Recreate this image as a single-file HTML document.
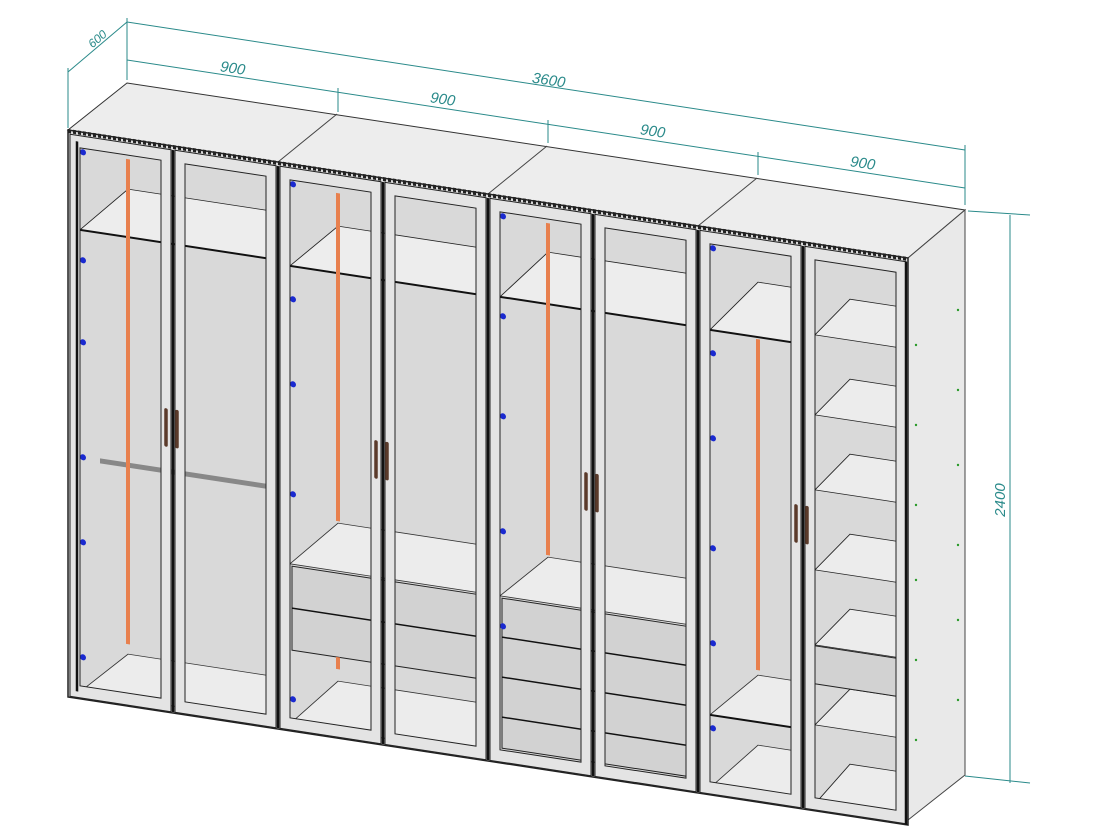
<!DOCTYPE html>
<html><head><meta charset="utf-8"><style>html,body{margin:0;padding:0;background:#fff}svg{display:block}</style></head>
<body>
<svg width="1099" height="829" viewBox="0 0 1099 829" xmlns="http://www.w3.org/2000/svg" font-family="Liberation Sans, sans-serif">
<!-- top -->
<polygon points="68,130 127,83 965,210 908,258" fill="#ededed" stroke="#333" stroke-width="1"/>
<g stroke="#444" stroke-width="1">
<line x1="278" y1="162" x2="337" y2="114"/>
<line x1="488" y1="194" x2="547" y2="146"/>
<line x1="698" y1="226" x2="757" y2="178"/>
</g>
<!-- right side -->
<polygon points="908,258 965,210 965,775 908,820" fill="#e9e9e9" stroke="#444" stroke-width="1"/>
<g fill="#2a9a2a">
<circle cx="916" cy="345" r="1.2"/><circle cx="916" cy="425" r="1.2"/><circle cx="916" cy="505" r="1.2"/><circle cx="916" cy="580" r="1.2"/><circle cx="916" cy="660" r="1.2"/><circle cx="916" cy="740" r="1.2"/>
<circle cx="958" cy="310" r="1.2"/><circle cx="958" cy="390" r="1.2"/><circle cx="958" cy="465" r="1.2"/><circle cx="958" cy="545" r="1.2"/><circle cx="958" cy="620" r="1.2"/><circle cx="958" cy="700" r="1.2"/>
</g>
<!-- front in skewed coords -->
<g transform="matrix(1 0.1524 0 1 0 -10.36)">
<rect x="68" y="130" width="840" height="567" fill="#d9d9d9" stroke="#222" stroke-width="1.5"/>
<!-- section 0 -->
<polygon points="80,228 128,180 268,180 268,228" fill="#ededed" stroke="#222" stroke-width="0.8"/>
<line x1="80" y1="228" x2="268" y2="228" stroke="#111" stroke-width="2"/>
<line x1="100" y1="456" x2="268" y2="456" stroke="#888" stroke-width="5"/>
<polygon points="80,690 128,645 268,645 268,690" fill="#ececec" stroke="#333" stroke-width="0.8"/>
<line x1="128" y1="150" x2="128" y2="635" stroke="#e8804e" stroke-width="4"/>
<!-- section 1 -->
<polygon points="290,232 338,185 478,185 478,232" fill="#ededed" stroke="#222" stroke-width="0.8"/>
<line x1="290" y1="232" x2="478" y2="232" stroke="#111" stroke-width="2"/>
<line x1="338" y1="152" x2="338" y2="480" stroke="#e8804e" stroke-width="4"/>
<polygon points="290,530 338,482 478,482 478,530" fill="#ececec" stroke="#333" stroke-width="0.8"/>
<rect x="292" y="532" width="186" height="84" fill="#d2d2d2" stroke="#222" stroke-width="1"/>
<line x1="292" y1="574" x2="478" y2="574" stroke="#111" stroke-width="1.5"/>
<line x1="338" y1="616" x2="338" y2="628" stroke="#e8804e" stroke-width="4"/>
<polygon points="290,690 338,640 478,640 478,690" fill="#ececec" stroke="#333" stroke-width="0.8"/>
<!-- section 2 -->
<polygon points="500,231 548,179 688,179 688,231" fill="#ededed" stroke="#222" stroke-width="0.8"/>
<line x1="500" y1="231" x2="688" y2="231" stroke="#111" stroke-width="2"/>
<line x1="548" y1="150" x2="548" y2="482" stroke="#e8804e" stroke-width="4"/>
<polygon points="500,530 548,484 688,484 688,530" fill="#ececec" stroke="#333" stroke-width="0.8"/>
<rect x="502" y="532" width="186" height="150" fill="#d2d2d2" stroke="#222" stroke-width="1"/>
<line x1="502" y1="571" x2="688" y2="571" stroke="#111" stroke-width="1.5"/>
<line x1="502" y1="611" x2="688" y2="611" stroke="#111" stroke-width="1.5"/>
<line x1="502" y1="651" x2="688" y2="651" stroke="#111" stroke-width="1.5"/>
<!-- section 3 -->
<polygon points="710,232 758,177 800,177 800,232" fill="#ededed" stroke="#222" stroke-width="0.8"/>
<line x1="710" y1="232" x2="800" y2="232" stroke="#111" stroke-width="2"/>
<line x1="758" y1="234" x2="758" y2="565" stroke="#e8804e" stroke-width="4"/>
<polygon points="710,617 758,570 800,570 800,617" fill="#ececec" stroke="#333" stroke-width="0.8"/>
<line x1="710" y1="617" x2="800" y2="617" stroke="#111" stroke-width="2"/>
<polygon points="710,690 758,640 800,640 800,690" fill="#ececec" stroke="#333" stroke-width="0.8"/>
<g fill="#ececec" stroke="#222" stroke-width="0.8">
<polygon points="815,221 850,180 898,180 898,221"/>
<polygon points="815,301 850,260 898,260 898,301"/>
<polygon points="815,376 850,335 898,335 898,376"/>
<polygon points="815,456 850,415 898,415 898,456"/>
<polygon points="815,531 850,490 898,490 898,531"/>
<polygon points="815,611 850,570 898,570 898,611"/>
<polygon points="815,690 850,645 898,645 898,690"/>
</g>
<rect x="815" y="532" width="83" height="38" fill="#d2d2d2" stroke="#222" stroke-width="1"/>
<!-- blue dots -->
<g fill="#1a2ad0">
<circle cx="83" cy="150" r="3"/><circle cx="83" cy="258" r="3"/><circle cx="83" cy="340" r="3"/><circle cx="83" cy="455" r="3"/><circle cx="83" cy="540" r="3"/><circle cx="83" cy="655" r="3"/>
<circle cx="293" cy="150" r="3"/><circle cx="293" cy="265" r="3"/><circle cx="293" cy="350" r="3"/><circle cx="293" cy="460" r="3"/><circle cx="293" cy="665" r="3"/>
<circle cx="503" cy="150" r="3"/><circle cx="503" cy="250" r="3"/><circle cx="503" cy="350" r="3"/><circle cx="503" cy="465" r="3"/><circle cx="503" cy="560" r="3"/>
<circle cx="713" cy="150" r="3"/><circle cx="713" cy="255" r="3"/><circle cx="713" cy="340" r="3"/><circle cx="713" cy="450" r="3"/><circle cx="713" cy="545" r="3"/><circle cx="713" cy="630" r="3"/>
</g>
<!-- doors -->
<g fill="#e4e4e4" stroke="#222" stroke-width="1" fill-rule="evenodd">
<path d="M70 134h101v562h-101z M80 146h81v538h-81z"/>
<path d="M175 134h101v562h-101z M185 146h81v538h-81z"/>
<path d="M280 134h101v562h-101z M290 146h81v538h-81z"/>
<path d="M385 134h101v562h-101z M395 146h81v538h-81z"/>
<path d="M490 134h101v562h-101z M500 146h81v538h-81z"/>
<path d="M595 134h101v562h-101z M605 146h81v538h-81z"/>
<path d="M700 134h101v562h-101z M710 146h81v538h-81z"/>
<path d="M805 134h101v562h-101z M815 146h81v538h-81z"/>
</g>
<g stroke="#111" stroke-width="2.5">
<line x1="77" y1="140" x2="77" y2="690"/><line x1="173" y1="134" x2="173" y2="696"/><line x1="278" y1="134" x2="278" y2="696"/><line x1="383" y1="134" x2="383" y2="696"/><line x1="488" y1="134" x2="488" y2="696"/><line x1="593" y1="134" x2="593" y2="696"/><line x1="698" y1="134" x2="698" y2="696"/><line x1="803" y1="134" x2="803" y2="696"/><line x1="906" y1="134" x2="906" y2="697"/>
</g>
<line x1="68" y1="131" x2="908" y2="131" stroke="#222" stroke-width="4" stroke-dasharray="3 2"/>
<!-- handles -->
<g stroke="#5a3a2a" stroke-width="3.5" stroke-linecap="round">
<line x1="166" y1="395" x2="166" y2="430"/><line x1="177" y1="395" x2="177" y2="430"/>
<line x1="376" y1="395" x2="376" y2="430"/><line x1="387" y1="395" x2="387" y2="430"/>
<line x1="586" y1="395" x2="586" y2="430"/><line x1="597" y1="395" x2="597" y2="430"/>
<line x1="796" y1="395" x2="796" y2="430"/><line x1="807" y1="395" x2="807" y2="430"/>
</g>
</g>
<!-- dimensions -->
<g stroke="#2a8a8a" stroke-width="1" fill="none">
<line x1="127" y1="22" x2="965" y2="150"/>
<line x1="127" y1="60" x2="965" y2="188"/>
<line x1="127" y1="18" x2="127" y2="80"/>
<line x1="965" y1="145" x2="965" y2="205"/>
<line x1="338" y1="88" x2="338" y2="112"/><line x1="548" y1="120" x2="548" y2="143"/><line x1="758" y1="152" x2="758" y2="175"/>
<line x1="68" y1="72" x2="127" y2="22"/>
<line x1="68" y1="68" x2="68" y2="128"/>
<line x1="1010" y1="215" x2="1010" y2="783"/>
<line x1="968" y1="211" x2="1030" y2="215"/>
<line x1="965" y1="776" x2="1030" y2="783"/>
</g>
<g fill="#2a8a8a" font-size="15" font-style="italic">
<text transform="translate(548,85) rotate(8.7)" text-anchor="middle">3600</text>
<text transform="translate(232,73) rotate(8.7)" text-anchor="middle">900</text>
<text transform="translate(442,104) rotate(8.7)" text-anchor="middle">900</text>
<text transform="translate(652,136) rotate(8.7)" text-anchor="middle">900</text>
<text transform="translate(862,168) rotate(8.7)" text-anchor="middle">900</text>
<text transform="translate(100,42) rotate(-40)" text-anchor="middle" font-size="12">600</text>
<text transform="translate(1005,500) rotate(-90)" text-anchor="middle">2400</text>
</g>
</svg>
</body></html>
